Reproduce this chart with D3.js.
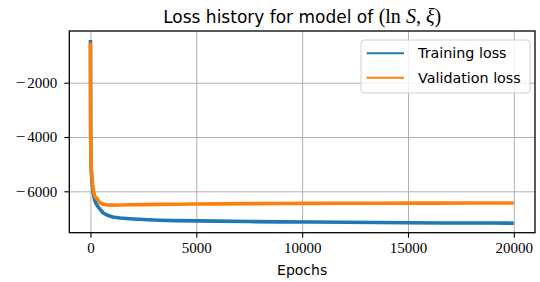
<!DOCTYPE html>
<html>
<head>
<meta charset="utf-8">
<script src="https://cdn.jsdelivr.net/npm/d3@7"></script>
<style>
  body { margin: 0; background: #fff; }
  svg { display: block; }
</style>
</head>
<body>
<div id="chart"></div>
<script>
const epochs = [0, 10, 20, 40, 70, 120, 200, 280, 360, 450, 600, 800, 1050, 1400, 1850,
  2500, 3250, 4000, 5000, 6000, 7500, 9000, 10500, 12000, 13500, 15000, 16500, 18000, 19000, 20000];
const trainingLoss = [-430, -3800, -4800, -5250, -5650, -6050, -6320, -6480, -6570, -6660, -6800, -6880, -6945, -6985, -7010,
  -7040, -7065, -7080, -7090, -7100, -7115, -7125, -7130, -7140, -7150, -7160, -7165, -7170, -7170, -7175];
const validationLoss = [-520, -3900, -4850, -5200, -5500, -5900, -6180, -6250, -6330, -6420, -6480, -6505, -6510, -6505, -6495,
  -6490, -6480, -6475, -6470, -6465, -6455, -6450, -6445, -6440, -6440, -6435, -6435, -6430, -6430, -6430];
const xTicks = [0, 5000, 10000, 15000, 20000];
const yTicks = [-2000, -4000, -6000];
const seriesNames = ["Training loss", "Validation loss"];

const width = 540, height = 282;
const mLeft = 69.3, mRight = 535, mTop = 31, mBottom = 232.7;

const svg = d3.select("#chart").append("svg")
  .attr("width", width)
  .attr("height", height);

const x = d3.scaleLinear().domain([-1000, 21000]).range([mLeft, mRight]);
const y = d3.scaleLinear().domain([-7525, -95]).range([mBottom, mTop]);

// grid
svg.append("g")
  .attr("transform", `translate(0,${mBottom})`)
  .call(d3.axisBottom(x).tickValues(xTicks).tickSize(-(mBottom - mTop)).tickFormat(""))
  .call(g => g.select(".domain").remove())
  .call(g => g.selectAll("line").attr("stroke", "#b0b0b0").attr("stroke-width", 1));
svg.append("g")
  .attr("transform", `translate(${mLeft},0)`)
  .call(d3.axisLeft(y).tickValues(yTicks).tickSize(-(mRight - mLeft)).tickFormat(""))
  .call(g => g.select(".domain").remove())
  .call(g => g.selectAll("line").attr("stroke", "#b0b0b0").attr("stroke-width", 1));

svg.append("clipPath").attr("id", "plotclip")
  .append("rect").attr("x", mLeft).attr("y", mTop).attr("width", mRight - mLeft).attr("height", mBottom - mTop);

const colors = ["#1f77b4", "#ff7f0e"];
const line = d3.line().x((d, i) => x(epochs[i])).y(d => y(d));

[trainingLoss, validationLoss].forEach((s, k) => {
  svg.append("path")
    .datum(s)
    .attr("clip-path", "url(#plotclip)")
    .attr("fill", "none")
    .attr("stroke", colors[k])
    .attr("stroke-width", 3.6)
    .attr("stroke-linejoin", "round")
    .attr("d", line);
});

// axes with ticks + labels
const xAxis = svg.append("g")
  .attr("transform", `translate(0,${mBottom})`)
  .call(d3.axisBottom(x).tickValues(xTicks).tickSize(5).tickPadding(5).tickFormat(d3.format("d")));
xAxis.select(".domain").remove();
xAxis.selectAll("line").attr("stroke", "#000").attr("stroke-width", 1.1);
xAxis.selectAll("text").attr("font-family", "Liberation Serif").attr("font-size", 15).attr("fill", "#000");

const yAxis = svg.append("g")
  .attr("transform", `translate(${mLeft},0)`)
  .call(d3.axisLeft(y).tickValues(yTicks).tickSize(5).tickPadding(7).tickFormat(""));
yAxis.select(".domain").remove();
yAxis.selectAll("line").attr("stroke", "#000").attr("stroke-width", 1.1);
yAxis.selectAll(".tick text")
  .attr("font-family", "Liberation Serif").attr("font-size", 15).attr("fill", "#000")
  .each(function (d) {
    const t = d3.select(this);
    t.append("tspan").attr("font-size", 17).text("\u2212");
    t.append("tspan").attr("dx", 2).text(Math.abs(d));
  });

svg.append("rect")
  .attr("x", mLeft).attr("y", mTop)
  .attr("width", mRight - mLeft).attr("height", mBottom - mTop)
  .attr("fill", "none").attr("stroke", "#000").attr("stroke-width", 1.3);

// title
const title = svg.append("text")
  .attr("x", (mLeft + mRight) / 2).attr("y", 22.5)
  .attr("text-anchor", "middle")
  .attr("font-family", "DejaVu Sans").attr("font-size", 17).attr("fill", "#000");
title.append("tspan").text("Loss history for model of ");
const m = title.append("tspan").attr("font-family", "Liberation Serif").attr("font-size", 20);
m.append("tspan").text("(ln ");
m.append("tspan").attr("font-style", "italic").text("S");
m.append("tspan").text(", ");
m.append("tspan").attr("font-style", "italic").text("\u03BE");
m.append("tspan").text(")");

svg.append("text")
  .attr("x", (mLeft + mRight) / 2).attr("y", 275)
  .attr("text-anchor", "middle")
  .attr("font-family", "DejaVu Sans").attr("font-size", 14)
  .text("Epochs");

// legend
const lg = svg.append("g");
lg.append("rect")
  .attr("x", 361).attr("y", 40).attr("width", 169).attr("height", 53)
  .attr("rx", 3)
  .attr("fill", "#fff").attr("fill-opacity", 0.8)
  .attr("stroke", "#d0d0d0").attr("stroke-width", 1);
seriesNames.forEach((name, i) => {
  const ly = 53.3 + i * 24.4;
  lg.append("line")
    .attr("x1", 366.7).attr("x2", 404).attr("y1", ly).attr("y2", ly)
    .attr("stroke", colors[i]).attr("stroke-width", 2);
  lg.append("text")
    .attr("x", 418).attr("y", ly + 5)
    .attr("font-family", "DejaVu Sans").attr("font-size", 14.3)
    .text(name);
});
</script>
</body>
</html>
